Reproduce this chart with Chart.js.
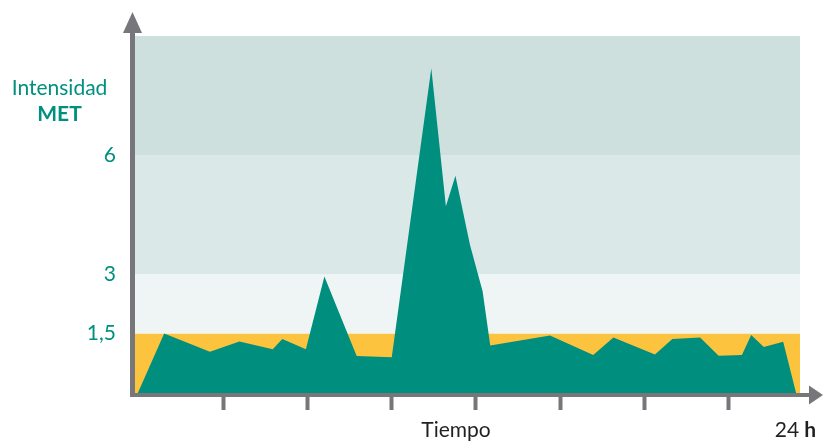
<!DOCTYPE html>
<html><head><meta charset="utf-8">
<script src="https://cdn.jsdelivr.net/npm/chart.js@4"></script>
<style>html,body{margin:0;padding:0;background:#fff;overflow:hidden}</style>
</head><body>
<canvas id="c" width="824" height="441"></canvas>
<script>
// ---- data ----
const hours = [-0.05, 0.89, 2.52, 3.57, 4.76, 5.10, 5.94, 6.60, 7.75, 9.00, 10.41, 10.93, 11.27, 11.79, 12.24, 12.51, 14.64, 16.18, 16.90, 18.38, 19.00, 19.99, 20.65, 21.48, 21.81, 22.26, 22.95, 23.41];
const met   = [0, 1.50, 1.04, 1.30, 1.10, 1.36, 1.10, 2.94, 0.93, 0.90, 8.19, 4.71, 5.48, 3.73, 2.56, 1.20, 1.45, 0.96, 1.40, 0.97, 1.36, 1.40, 0.94, 0.96, 1.46, 1.16, 1.29, 0];
const bandEdges  = [0, 1.5, 3, 6, 9];
const bandColors = ['#FCC33F', '#EEF5F4', '#DAE8E7', '#CDE0DE'];
const yTickValues = [1.5, 3, 6];
const yTickLabels = ['1,5', '3', '6'];
const xTickValues = [3, 6, 9, 12, 15, 18, 21];
const yTitle = ['Intensidad', 'MET'];
const xTitle = 'Tiempo';
const xEndLabel = ['24', 'h'];

const TEAL = '#008E7E';
const TEXT_TEAL = '#00907F';
const GRAY = '#77777B';
const FONT = 'Lato, "Open Sans", sans-serif';

const decor = {
  id: 'decor',
  beforeDatasetsDraw(chart) {
    const {ctx, chartArea: a, scales: {y}} = chart;
    ctx.save();
    for (let i = 0; i < bandColors.length; i++) {
      const top = y.getPixelForValue(bandEdges[i + 1]);
      const bot = y.getPixelForValue(bandEdges[i]);
      ctx.fillStyle = bandColors[i];
      ctx.fillRect(a.left, top, a.right - a.left, bot - top);
    }
    ctx.restore();
  },
  afterDraw(chart) {
    const {ctx, chartArea: a} = chart;
    ctx.save();
    ctx.fillStyle = GRAY;
    // y axis line + arrow
    const yx = a.left - 2.5;
    ctx.fillRect(a.left - 5, a.top - 4, 5, a.bottom - a.top + 8);
    ctx.beginPath();
    ctx.moveTo(yx, a.top - 24);
    ctx.lineTo(yx - 9.5, a.top - 3);
    ctx.lineTo(yx + 9.5, a.top - 3);
    ctx.closePath();
    ctx.fill();
    // x axis line + arrow
    const xy = a.bottom + 2;
    ctx.fillRect(a.left - 5, a.bottom, a.right + 12 - (a.left - 5), 4);
    ctx.beginPath();
    ctx.moveTo(a.right + 23, xy);
    ctx.lineTo(a.right + 9, xy - 9.5);
    ctx.lineTo(a.right + 9, xy + 9.5);
    ctx.closePath();
    ctx.fill();

    // y title
    ctx.fillStyle = TEXT_TEAL;
    ctx.textAlign = 'center';
    ctx.textBaseline = 'alphabetic';
    ctx.font = '21px ' + FONT;
    ctx.fillText(yTitle[0], 59.5, 94.5);
    ctx.font = 'bold 21px ' + FONT;
    ctx.fillText(yTitle[1], 59.5, 120.5);

    // x title
    ctx.fillStyle = '#231F20';
    ctx.font = '21px ' + FONT;
    ctx.fillText(xTitle, 456, 437);
    // "24 h" right aligned
    ctx.textAlign = 'right';
    ctx.font = 'bold 21px ' + FONT;
    const hw = ctx.measureText(xEndLabel[1]).width;
    ctx.fillText(xEndLabel[1], 816, 437);
    ctx.font = '21px ' + FONT;
    ctx.fillText(xEndLabel[0], 816 - hw - 5, 437);
    ctx.restore();
  }
};

new Chart(document.getElementById('c'), {
  type: 'line',
  data: {
    datasets: [{
      data: hours.map((h, i) => ({x: h, y: met[i]})),
      fill: 'origin',
      backgroundColor: TEAL,
      borderWidth: 0,
      borderColor: TEAL,
      pointRadius: 0,
      tension: 0
    }]
  },
  options: {
    responsive: false,
    animation: false,
    devicePixelRatio: 1,
    layout: {padding: {top: 36, right: 24, left: 0, bottom: 0}},
    plugins: {legend: {display: false}, tooltip: {enabled: false}},
    scales: {
      x: {
        type: 'linear',
        position: 'bottom',
        min: -0.15,
        max: 23.55,
        border: {display: false},
        grid: {drawOnChartArea: false, drawTicks: true, tickLength: 17, tickWidth: 4, tickColor: GRAY},
        ticks: {display: false},
        afterBuildTicks: s => { s.ticks = xTickValues.map(v => ({value: v})); },
        afterFit: s => { s.height = 48; }
      },
      y: {
        type: 'linear',
        position: 'left',
        min: 0,
        max: 9,
        border: {display: false},
        grid: {display: false, drawTicks: false},
        ticks: {
          padding: 19,
          color: TEXT_TEAL,
          font: {family: FONT, size: 21},
          callback: v => yTickLabels[yTickValues.indexOf(v)]
        },
        afterBuildTicks: s => { s.ticks = yTickValues.map(v => ({value: v})); },
        afterFit: s => { s.width = 135; }
      }
    }
  },
  plugins: [decor]
});
</script>
</body></html>
